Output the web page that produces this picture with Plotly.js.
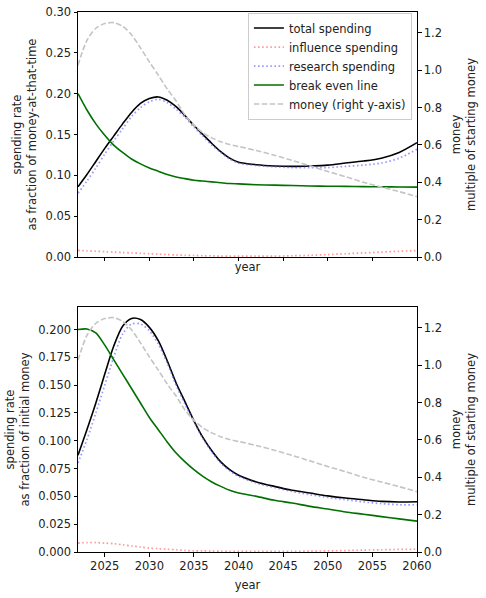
<!DOCTYPE html>
<html><head><meta charset="utf-8">
<script src="https://cdn.plot.ly/plotly-3.0.1.min.js"></script>
<style>html,body{margin:0;padding:0;background:#fff}#chart{width:486px;height:598px}</style>
</head><body><div id="chart"></div>
<script>
const years = [2022,2023,2024,2025,2026,2027,2028,2029,2030,2031,2032,2033,2034,2035,2036,2037,2038,2039,2040,2042,2044,2046,2048,2050,2052,2054,2056,2058,2060];

// top panel: fraction of money-at-that-time
const topTotal = [0.086,0.101,0.117,0.133,0.148,0.163,0.177,0.188,0.194,0.196,0.192,0.184,0.173,0.161,0.150,0.139,0.129,0.121,0.116,0.113,0.1115,0.111,0.1115,0.1125,0.115,0.1175,0.121,0.128,0.140];
const topInfluence = [0.008,0.0075,0.007,0.0065,0.006,0.0055,0.005,0.0045,0.004,0.0035,0.003,0.0025,0.002,0.002,0.0015,0.0015,0.001,0.001,0.001,0.001,0.001,0.0015,0.002,0.003,0.004,0.005,0.006,0.007,0.008];
const topResearch = [0.078,0.093,0.109,0.126,0.142,0.157,0.172,0.183,0.190,0.193,0.189,0.181,0.171,0.159,0.148,0.137,0.128,0.120,0.115,0.112,0.1105,0.1095,0.1095,0.1095,0.111,0.1125,0.115,0.121,0.132];
const topBreakEven = [0.200,0.180,0.163,0.149,0.137,0.128,0.120,0.114,0.109,0.105,0.101,0.098,0.096,0.094,0.093,0.092,0.091,0.090,0.0895,0.0885,0.088,0.0875,0.087,0.0867,0.0865,0.0862,0.086,0.0858,0.0856];

// money (multiple of starting money), right axis
const money = [1.027,1.16,1.225,1.25,1.255,1.235,1.19,1.12,1.045,0.974,0.90,0.835,0.76,0.705,0.665,0.638,0.617,0.602,0.592,0.57,0.545,0.517,0.488,0.458,0.43,0.40,0.375,0.35,0.323];

// bottom panel: fraction of initial money
const botTotal = [0.087,0.110,0.134,0.160,0.185,0.203,0.210,0.209,0.202,0.190,0.172,0.152,0.135,0.118,0.103,0.091,0.081,0.074,0.069,0.063,0.059,0.0555,0.053,0.0505,0.0485,0.047,0.0455,0.045,0.0452];
const botInfluence = [0.008,0.0085,0.0085,0.008,0.0075,0.0065,0.0055,0.0045,0.0035,0.003,0.0025,0.002,0.0015,0.001,0.001,0.0008,0.0007,0.0006,0.0005,0.0005,0.0005,0.0006,0.0008,0.001,0.0013,0.0017,0.002,0.0023,0.0025];
const botResearch = [0.080,0.101,0.125,0.150,0.175,0.196,0.205,0.205,0.199,0.187,0.170,0.150,0.133,0.117,0.102,0.090,0.080,0.073,0.068,0.062,0.058,0.0545,0.0515,0.049,0.047,0.045,0.0435,0.0425,0.0425];
const botBreakEven = [0.200,0.2005,0.197,0.186,0.173,0.160,0.147,0.134,0.121,0.110,0.099,0.089,0.081,0.074,0.068,0.063,0.059,0.0555,0.053,0.050,0.0465,0.044,0.041,0.0386,0.036,0.034,0.0318,0.0298,0.0278];

const names = ['total spending','influence spending','research spending','break even line','money (right y-axis)'];
const yTicksTop = [0,0.05,0.10,0.15,0.20,0.25,0.30];
const yTicksBot = [0,0.025,0.05,0.075,0.1,0.125,0.15,0.175,0.2];
const yTicksMoney = [0,0.2,0.4,0.6,0.8,1.0,1.2];
const xTicks = [2025,2030,2035,2040,2045,2050,2055,2060];

const FS = 11.5;
const styles = [
  {color:'#000000', width:1.6, dash:'solid'},
  {color:'rgba(255,100,100,0.65)', width:1.7, dash:'1.6px,2.5px'},
  {color:'rgba(100,100,255,0.65)', width:1.7, dash:'1.6px,2.5px'},
  {color:'#007000', width:1.6, dash:'solid'},
  {color:'#c4c4c4', width:1.6, dash:'5.5px,2.4px'}
];

function tr(y, i, xa, ya, show){
  return {x: years, y: y, type:'scatter', mode:'lines', name: names[i],
    xaxis: xa, yaxis: ya, showlegend: show, legendrank: i+1,
    line: Object.assign({shape:'spline', smoothing:0.8}, styles[i]),
    hoverinfo:'skip'};
}

const data = [
  tr(topTotal,0,'x2','y',true),
  tr(topInfluence,1,'x2','y',true),
  tr(topResearch,2,'x2','y',true),
  tr(topBreakEven,3,'x2','y',true),
  tr(money,4,'x2','y2',true),
  tr(botTotal,0,'x','y3',false),
  tr(botInfluence,1,'x','y3',false),
  tr(botResearch,2,'x','y3',false),
  tr(botBreakEven,3,'x','y3',false),
  tr(money,4,'x','y4',false)
];

const tf = {size:FS, color:'#222'};
const axBase = {showline:true, linecolor:'#000', linewidth:1, mirror:false, ticks:'outside', ticklen:3.5, tickwidth:1, tickcolor:'#000', showgrid:false, zeroline:false, tickfont:tf};

const layout = {
  width:486, height:598,
  margin:{l:78, r:69, t:12, b:46},
  paper_bgcolor:'#fff', plot_bgcolor:'#fff',
  font:{family:'DejaVu Sans, sans-serif', size:FS, color:'#222'},
  showlegend:true,
  legend:{x:0.985, y:0.999, xanchor:'right', yanchor:'top', xref:'paper', yref:'paper',
    bgcolor:'rgba(255,255,255,0.85)', bordercolor:'#cccccc', borderwidth:1,
    font:tf, tracegroupgap:0, itemwidth:30},
  xaxis: Object.assign({}, axBase, {anchor:'y3', domain:[0,1], range:[2022,2060], tickvals:xTicks, ticktext:xTicks.map(String), mirror:true,
    title:{text:'year', font:tf, standoff:8}}),
  xaxis2: Object.assign({}, axBase, {anchor:'y', domain:[0,1], range:[2022,2060], tickvals:xTicks, showticklabels:false, mirror:true,
    title:{text:'year', font:tf, standoff:2}}),
  yaxis: Object.assign({}, axBase, {anchor:'x2', domain:[0.5463,1], range:[0,0.30], tickvals:yTicksTop, ticktext:yTicksTop.map(v=>v.toFixed(2)),
    title:{text:'spending rate<br>as fraction of money-at-that-time', font:tf, standoff:6}}),
  yaxis2: Object.assign({}, axBase, {anchor:'x2', overlaying:'y', side:'right', range:[0,1.312], tickvals:yTicksMoney, ticktext:yTicksMoney.map(v=>v.toFixed(1)),
    title:{text:'money<br>multiple of starting money', font:tf, standoff:10}}),
  yaxis3: Object.assign({}, axBase, {anchor:'x', domain:[0,0.4537], range:[0,0.2203], tickvals:yTicksBot, ticktext:yTicksBot.map(v=>v.toFixed(3)),
    title:{text:'spending rate<br>as fraction of initial money', font:tf, standoff:6}}),
  yaxis4: Object.assign({}, axBase, {anchor:'x', overlaying:'y3', side:'right', range:[0,1.312], tickvals:yTicksMoney, ticktext:yTicksMoney.map(v=>v.toFixed(1)),
    title:{text:'money<br>multiple of starting money', font:tf, standoff:10}})
};

Plotly.newPlot('chart', data, layout, {staticPlot:true, displayModeBar:false});
</script>
</body></html>
